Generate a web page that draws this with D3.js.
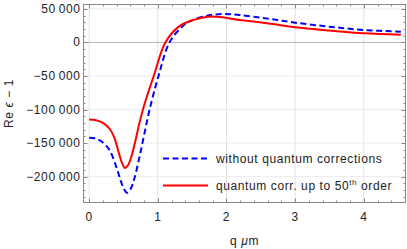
<!DOCTYPE html>
<html><head><meta charset="utf-8">
<script src="https://cdn.jsdelivr.net/npm/d3@7"></script>
<style>body{margin:0;background:#fff}svg{display:block}text{font-family:"Liberation Sans",Arial,sans-serif;fill:#222;letter-spacing:0.6px}</style>
</head><body>
<svg id="c" width="407" height="249"></svg>
<script>
const qBlue = [0,0.1,0.2,0.3,0.39,0.45,0.5,0.55,0.6,0.66,0.73,0.8,0.88,1.01,1.17,1.36,1.49,1.7,1.95,2.19,2.6,3.0,3.5,4.0,4.54];
const vBlue = [-142000,-143500,-149000,-161000,-184000,-203000,-217000,-224000,-219000,-202000,-172000,-138000,-100000,-50000,0,24000,32500,39500,42500,41000,35500,29500,23500,18600,16100];
const qRed = [0,0.1,0.2,0.3,0.37,0.43,0.48,0.52,0.56,0.61,0.67,0.73,0.8,0.94,1.11,1.31,1.49,1.77,2.19,2.67,3.0,3.5,4.0,4.54];
const vRed = [-115000,-116000,-120000,-129000,-143000,-164000,-180000,-187000,-184000,-172000,-148000,-121000,-94000,-50000,0,24000,32500,38500,33600,27500,22700,17800,13700,11600];
const xTicks = [0,1,2,3,4];
const xTickLabels = ["0","1","2","3","4"];
const yTicks = [50000,0,-50000,-100000,-150000,-200000];
const yTickLabels = ["50\u2009000","0","\u221250\u2009000","\u2212100\u2009000","\u2212150\u2009000","\u2212200\u2009000"];
const legendLabels = ["without quantum corrections","quantum corr. up to 50"];

const L=83,R=406,T=4,B=203;
const FS=12;
const x=d3.scaleLinear().domain([-0.09,4.615]).range([L,R]);
const y=d3.scaleLinear().domain([-239300,57300]).range([B,T]);
const svg=d3.select("#c");

// grid
const xMinor=d3.range(0,4.61,0.2).filter(v=>Math.abs(v-Math.round(v))>1e-6);
const yMinor=d3.range(-230000,57000,10000).filter(v=>v%50000!==0);
svg.append("g").selectAll("line").data(xTicks).join("line")
 .attr("x1",d=>x(d)).attr("x2",d=>x(d)).attr("y1",T).attr("y2",B)
 .attr("stroke","#e2e2e2").attr("stroke-width",1);
svg.append("g").selectAll("line").data(yTicks).join("line")
 .attr("x1",L).attr("x2",R).attr("y1",d=>y(d)).attr("y2",d=>y(d))
 .attr("stroke",d=>d===0?"#b8b8b8":"#ececec").attr("stroke-width",1);

// curves
const line=d3.line().curve(d3.curveCatmullRom.alpha(0.5));
const ptsB=qBlue.map((q,i)=>[x(q),y(vBlue[i])]);
const ptsR=qRed.map((q,i)=>[x(q),y(vRed[i])]);
svg.append("path").attr("d",line(ptsB)).attr("fill","none").attr("stroke","#0000ff").attr("stroke-width",2).attr("stroke-dasharray","6,3.5");
svg.append("path").attr("d",line(ptsR)).attr("fill","none").attr("stroke","#ff0000").attr("stroke-width",2);

// frame
svg.append("rect").attr("x",L+0.5).attr("y",T+0.5).attr("width",R-L-1).attr("height",B-T-1).attr("fill","none").attr("stroke","#888").attr("stroke-width",1);

// ticks
const tk=svg.append("g").attr("stroke","#888").attr("stroke-width",1);
function xt(vals,len){vals.forEach(v=>{const px=Math.round(x(v))+0.5;
 tk.append("line").attr("x1",px).attr("x2",px).attr("y1",B).attr("y2",B-len);
 tk.append("line").attr("x1",px).attr("x2",px).attr("y1",T).attr("y2",T+len);});}
function yt(vals,len){vals.forEach(v=>{const py=Math.round(y(v))+0.5;
 tk.append("line").attr("x1",L).attr("x2",L+len).attr("y1",py).attr("y2",py);
 tk.append("line").attr("x1",R).attr("x2",R-len).attr("y1",py).attr("y2",py);});}
xt(xTicks,4.5); xt(xMinor,2.5); yt(yTicks,4.5); yt(yMinor,2.5);

// tick labels
svg.append("g").selectAll("text").data(xTicks).join("text")
 .attr("x",d=>x(d)).attr("y",221).attr("text-anchor","middle").attr("font-size",FS).text((d,i)=>xTickLabels[i]);
svg.append("g").selectAll("text").data(yTicks).join("text")
 .attr("x",80.5).attr("y",d=>y(d)+4).attr("text-anchor","end").attr("font-size",FS).text((d,i)=>yTickLabels[i]);

// axis labels
const xl=svg.append("text").attr("x",(L+R)/2).attr("y",245).attr("text-anchor","middle").attr("font-size",FS);
xl.append("tspan").text("q ");
xl.append("tspan").attr("font-style","italic").text("\u03bc");
xl.append("tspan").text("m");
const yl=svg.append("text").attr("transform",`translate(13,${(T+B)/2}) rotate(-90)`).attr("text-anchor","middle").attr("font-size",FS);
yl.append("tspan").text("Re ");
yl.append("tspan").attr("font-style","italic").text("\u03f5");
yl.append("tspan").text(" \u2212 1");

// legend
const lg=svg.append("g");
lg.append("line").attr("x1",163).attr("x2",208).attr("y1",158.5).attr("y2",158.5).attr("stroke","#0000ff").attr("stroke-width",2).attr("stroke-dasharray","6,3.5");
lg.append("line").attr("x1",163).attr("x2",208).attr("y1",185.5).attr("y2",185.5).attr("stroke","#ff0000").attr("stroke-width",2);
lg.append("text").attr("x",216).attr("y",162.5).attr("font-size",FS).text(legendLabels[0]);
const t2=lg.append("text").attr("x",216).attr("y",189.5).attr("font-size",FS);
t2.append("tspan").text(legendLabels[1]);
t2.append("tspan").attr("font-size",8).attr("dy",-5).text("th");
t2.append("tspan").attr("dy",5).text(" order");
</script>
</body></html>
